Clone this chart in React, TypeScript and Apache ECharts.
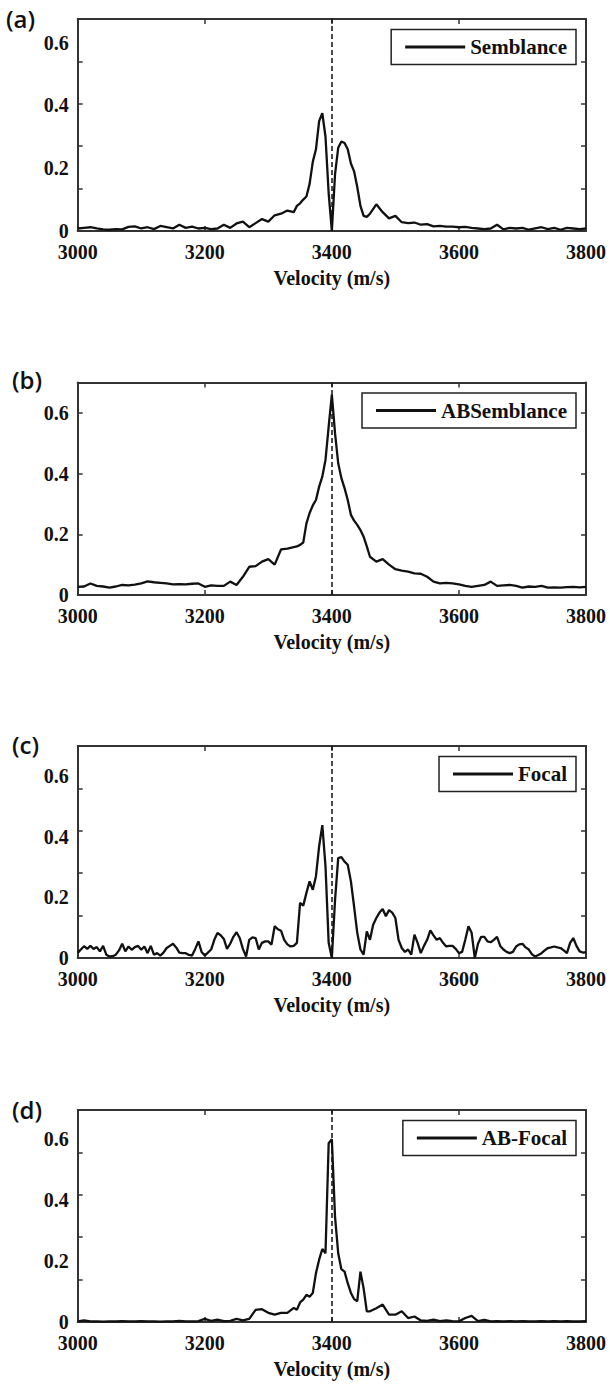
import React, { useEffect, useRef } from "react";
import * as echarts from "echarts";

// Velocity grid (m/s) used by Semblance, ABSemblance and AB-Focal
const velocity = [
  3000, 3010, 3020, 3030, 3040, 3050, 3060, 3070, 3080, 3090,
  3100, 3110, 3120, 3130, 3140, 3150, 3160, 3170, 3180, 3190,
  3200, 3210, 3220, 3230, 3240, 3250, 3260, 3270, 3280, 3290,
  3300, 3310, 3320, 3330, 3340,
  3345, 3350, 3355, 3360, 3365, 3370, 3375, 3380, 3385, 3390, 3395, 3400,
  3405, 3410, 3415, 3420, 3425, 3430, 3435, 3440, 3445, 3450, 3455,
  3460, 3470, 3480, 3490, 3500, 3510, 3520, 3530, 3540, 3550,
  3560, 3570, 3580, 3590, 3600, 3610, 3620, 3630, 3640, 3650,
  3660, 3670, 3680, 3690, 3700, 3710, 3720, 3730, 3740, 3750,
  3760, 3770, 3780, 3790, 3800,
];

const semblance = [
  0.008, 0.01, 0.012, 0.008, 0.005, 0.004, 0.006, 0.005, 0.013, 0.015,
  0.008, 0.012, 0.006, 0.016, 0.012, 0.008, 0.02, 0.01, 0.014, 0.008,
  0.01, 0.006, 0.008, 0.02, 0.01, 0.024, 0.03, 0.012, 0.025, 0.038,
  0.03, 0.05, 0.055, 0.065, 0.06,
  0.08, 0.088, 0.1, 0.11, 0.15, 0.22, 0.26, 0.35, 0.375, 0.3, 0.12, 0.0,
  0.18, 0.265, 0.285, 0.28, 0.26, 0.215, 0.19, 0.14, 0.08, 0.048, 0.045,
  0.055, 0.085, 0.06, 0.04, 0.048, 0.028, 0.025, 0.027, 0.02, 0.022,
  0.015, 0.016, 0.014, 0.014, 0.012, 0.013, 0.01, 0.008, 0.006, 0.008,
  0.02, 0.005, 0.01, 0.008, 0.01, 0.004, 0.008, 0.012, 0.006, 0.01,
  0.004, 0.01, 0.008, 0.006, 0.008,
];

const abSemblance = [
  0.027, 0.028, 0.038, 0.03, 0.028, 0.024, 0.028, 0.033, 0.032, 0.034,
  0.038, 0.045, 0.042, 0.04, 0.038, 0.035, 0.036, 0.035, 0.037, 0.038,
  0.027, 0.032, 0.03, 0.03, 0.044, 0.033, 0.06, 0.093, 0.095, 0.11,
  0.118, 0.1, 0.15, 0.153, 0.158,
  0.16, 0.165, 0.173, 0.236, 0.27, 0.295, 0.313, 0.357, 0.39, 0.445, 0.555, 0.66,
  0.533, 0.434, 0.385, 0.352, 0.313, 0.264, 0.245, 0.231, 0.214, 0.192, 0.16,
  0.126, 0.11, 0.118, 0.1, 0.085, 0.08, 0.077, 0.071, 0.07, 0.06,
  0.044, 0.038, 0.04, 0.038, 0.035, 0.03, 0.027, 0.03, 0.033, 0.044,
  0.03, 0.032, 0.033, 0.03, 0.024, 0.028, 0.027, 0.03, 0.024, 0.025,
  0.024, 0.026, 0.027, 0.025, 0.027,
];

const abFocal = [
  0.002, 0.005, 0.002, 0.002, 0.001, 0.002, 0.002, 0.003, 0.002, 0.002,
  0.003, 0.002, 0.002, 0.001, 0.002, 0.002, 0.004, 0.002, 0.002, 0.003,
  0.01, 0.004, 0.008, 0.003, 0.004, 0.01, 0.005, 0.01, 0.04, 0.042,
  0.03, 0.024, 0.03, 0.03, 0.046,
  0.04, 0.064, 0.073, 0.089, 0.083, 0.095, 0.16, 0.204, 0.239, 0.225, 0.585, 0.598,
  0.345, 0.225, 0.173, 0.165, 0.127, 0.095, 0.075, 0.068, 0.165, 0.11, 0.035,
  0.035, 0.045, 0.057, 0.024, 0.024, 0.035, 0.013, 0.018, 0.005, 0.004,
  0.008, 0.003, 0.005, 0.003, 0.002, 0.013, 0.02, 0.003, 0.007, 0.002,
  0.003, 0.002, 0.003, 0.002, 0.003, 0.002, 0.002, 0.003, 0.002, 0.003,
  0.002, 0.003, 0.002, 0.002, 0.003,
];

// Finer velocity grid (m/s) for the Focal curve
const velocityFocal = [
  3000, 3005, 3010, 3015, 3020, 3025, 3030, 3035, 3040, 3045, 3050, 3055, 3060, 3065, 3070, 3075, 3080, 3085, 3090, 3095,
  3100, 3105, 3110, 3115, 3120, 3125, 3130, 3135, 3140, 3145, 3150, 3155, 3160, 3165, 3170, 3175, 3180, 3185, 3190, 3195,
  3200, 3205, 3210, 3215, 3220, 3225, 3230, 3235, 3240, 3245, 3250, 3255, 3260, 3265, 3270, 3275, 3280, 3285, 3290, 3295,
  3300, 3305, 3310, 3315, 3320, 3325, 3330, 3335, 3340, 3345, 3350, 3355, 3360, 3365, 3370, 3375, 3380, 3385, 3390, 3395,
  3400, 3405, 3410, 3415, 3420, 3425, 3430, 3435, 3440, 3445, 3450, 3455, 3460, 3465, 3470, 3475, 3480, 3485, 3490, 3495,
  3500, 3505, 3510, 3515, 3520, 3525, 3530, 3535, 3540, 3545, 3550, 3555, 3560, 3565, 3570, 3575, 3580, 3585, 3590, 3595,
  3600, 3605, 3610, 3615, 3620, 3625, 3630, 3635, 3640, 3645, 3650, 3655, 3660, 3665, 3670, 3675, 3680, 3685, 3690, 3695,
  3700, 3705, 3710, 3715, 3720, 3725, 3730, 3735, 3740, 3745, 3750, 3755, 3760, 3765, 3770, 3775, 3780, 3785, 3790, 3795,
  3800,
];

const focal = [
  0.017, 0.028, 0.039, 0.03, 0.04, 0.03, 0.036, 0.022, 0.04, 0.011, 0.005, 0.006, 0.011, 0.025, 0.047, 0.022, 0.038, 0.027, 0.036, 0.04,
  0.027, 0.038, 0.016, 0.04, 0.011, 0.016, 0.008, 0.018, 0.033, 0.04, 0.047, 0.035, 0.018, 0.016, 0.016, 0.01, 0.008, 0.03, 0.055, 0.02,
  0.008, 0.018, 0.028, 0.06, 0.083, 0.075, 0.063, 0.03, 0.047, 0.07, 0.085, 0.066, 0.03, 0.005, 0.06, 0.068, 0.066, 0.028, 0.05, 0.055,
  0.055, 0.044, 0.105, 0.095, 0.09, 0.06, 0.045, 0.038, 0.04, 0.05, 0.182, 0.173, 0.215, 0.253, 0.225, 0.27, 0.369, 0.439, 0.303, 0.05,
  0.0, 0.19, 0.33, 0.333, 0.318, 0.308, 0.253, 0.17, 0.083, 0.028, 0.011, 0.088, 0.06, 0.11, 0.132, 0.15, 0.162, 0.138, 0.158, 0.15,
  0.132, 0.06, 0.033, 0.02, 0.028, 0.011, 0.077, 0.05, 0.016, 0.04, 0.06, 0.091, 0.075, 0.06, 0.066, 0.05, 0.038, 0.04, 0.04, 0.03,
  0.016, 0.02, 0.06, 0.105, 0.083, 0.0, 0.047, 0.07, 0.07, 0.055, 0.052, 0.06, 0.07, 0.04, 0.028, 0.02, 0.016, 0.02, 0.038, 0.045,
  0.047, 0.035, 0.028, 0.012, 0.005, 0.01, 0.016, 0.025, 0.033, 0.035, 0.038, 0.035, 0.033, 0.025, 0.016, 0.05, 0.066, 0.04, 0.022, 0.018,
  0.019,
];

const panelLabels = ["(a)", "(b)", "(c)", "(d)"];
const seriesNames = ["Semblance", "ABSemblance", "Focal", "AB-Focal"];
const yLabelValues = [0, 0.2, 0.4, 0.6];
const xMin = 3000;
const xMax = 3800;
const xStep = 200;
const referenceVelocity = 3400;
const xTitle = "Velocity (m/s)";

const SERIF = "'Liberation Serif', 'Times New Roman', serif";
const AXIS = "#333";
const INK = "#111";

type Panel = {
  label: string;
  name: string;
  xs: number[];
  ys: number[];
  top: number;
  height: number;
  yMax: number;
  ticks: number[];
  labelX: number;
  labelY: number;
};

const fifths = (m: number) => [1, 2, 3, 4].map((k) => (k * m) / 5);

const panels: Panel[] = [
  { label: panelLabels[0], name: seriesNames[0], xs: velocity, ys: semblance, top: 19, height: 212, yMax: 0.675, ticks: fifths(0.675), labelX: 6, labelY: 20 },
  { label: panelLabels[1], name: seriesNames[1], xs: velocity, ys: abSemblance, top: 382.5, height: 212.5, yMax: 0.7, ticks: [0.2, 0.4, 0.6], labelX: 12, labelY: 381 },
  { label: panelLabels[2], name: seriesNames[2], xs: velocityFocal, ys: focal, top: 746, height: 212, yMax: 0.7, ticks: fifths(0.7), labelX: 12, labelY: 746 },
  { label: panelLabels[3], name: seriesNames[3], xs: velocity, ys: abFocal, top: 1110, height: 212, yMax: 0.694, ticks: fifths(0.694), labelX: 12, labelY: 1111 },
];

const LEFT = 77.7;
const RIGHT = 24;

function buildOption() {
  const grid: any[] = [];
  const xAxis: any[] = [];
  const yAxis: any[] = [];
  const series: any[] = [];
  const legend: any[] = [];
  const graphic: any[] = [];

  panels.forEach((p, i) => {
    grid.push({ left: LEFT, right: RIGHT, top: p.top, height: p.height, containLabel: false });

    const axisLine = { show: true, onZero: false, lineStyle: { color: AXIS, width: 2 } };
    const tickStyle = { color: AXIS, width: 1.5 };
    const labelStyle = { fontFamily: SERIF, fontWeight: "bold", fontSize: 20, color: INK, lineHeight: 16 };

    xAxis.push({
      gridIndex: i,
      type: "value",
      min: xMin,
      max: xMax,
      interval: xStep,
      position: "bottom",
      axisLine,
      axisTick: { show: true, inside: true, length: 5, lineStyle: tickStyle },
      axisLabel: { ...labelStyle, margin: 13, formatter: (v: number) => String(v) },
      splitLine: { show: false },
      name: xTitle,
      nameLocation: "middle",
      nameGap: 37,
      nameTextStyle: { fontFamily: SERIF, fontWeight: "bold", fontSize: 20, color: INK },
    });
    xAxis.push({
      gridIndex: i,
      type: "value",
      min: xMin,
      max: xMax,
      interval: xStep,
      position: "top",
      axisLine,
      axisTick: { show: true, inside: true, length: 5, lineStyle: tickStyle },
      axisLabel: { show: false },
      splitLine: { show: false },
    });
    yAxis.push({
      gridIndex: i,
      type: "value",
      min: 0,
      max: p.yMax,
      position: "left",
      axisLine,
      axisTick: { show: true, inside: true, length: 5, customValues: p.ticks, lineStyle: tickStyle },
      axisLabel: {
        ...labelStyle,
        margin: 9,
        customValues: yLabelValues,
        formatter: (v: number) => String(Math.round(v * 10) / 10),
      },
      splitLine: { show: false },
    });
    yAxis.push({
      gridIndex: i,
      type: "value",
      min: 0,
      max: p.yMax,
      position: "right",
      axisLine,
      axisTick: { show: true, inside: true, length: 5, customValues: p.ticks, lineStyle: tickStyle },
      axisLabel: { show: false },
      splitLine: { show: false },
    });

    series.push({
      name: p.name,
      type: "line",
      xAxisIndex: i * 2,
      yAxisIndex: i * 2,
      data: p.xs.map((x, k) => [x, p.ys[k]]),
      showSymbol: false,
      symbol: "none",
      lineStyle: { color: INK, width: 2.3 },
      itemStyle: { color: INK },
      z: 3,
      markLine: {
        silent: true,
        symbol: ["none", "none"],
        label: { show: false },
        lineStyle: { color: INK, width: 1.5, type: [5, 3] },
        data: [{ xAxis: referenceVelocity }],
      },
    });

    legend.push({
      data: [p.name],
      right: 34,
      top: p.top + 10.5,
      orient: "horizontal",
      icon: "rect",
      itemWidth: 60,
      itemHeight: 3,
      padding: [7, 9, 7, 14],
      borderColor: "#222",
      borderWidth: 1.5,
      backgroundColor: "#fff",
      selectedMode: false,
      textStyle: { fontFamily: SERIF, fontWeight: "bold", fontSize: 21, color: INK, lineHeight: 20 },
    });

    graphic.push({
      type: "text",
      left: p.labelX,
      top: p.labelY - 14,
      style: {
        text: p.label,
        font: "600 24px 'Open Sans', Lato, sans-serif",
        fill: INK,
      },
    });
  });

  return {
    animation: false,
    backgroundColor: "#fff",
    grid,
    xAxis,
    yAxis,
    series,
    legend,
    graphic,
  };
}

export default function App() {
  const ref = useRef<HTMLDivElement>(null);
  useEffect(() => {
    if (!ref.current) return;
    const chart = echarts.init(ref.current, undefined, { renderer: "svg" });
    chart.setOption(buildOption() as any);
    return () => chart.dispose();
  }, []);
  return (
    <div
      ref={ref}
      style={{ position: "absolute", left: 0, top: 0, width: 610, height: 1384, background: "#fff" }}
    />
  );
}
